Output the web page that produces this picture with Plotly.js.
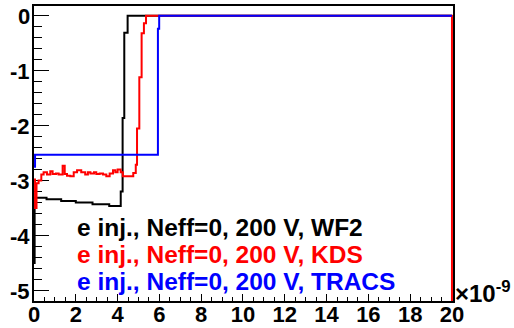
<!DOCTYPE html>
<html>
<head>
<meta charset="utf-8">
<script src="https://cdn.plot.ly/plotly-3.0.1.min.js"></script>
<style>
  html, body { margin: 0; padding: 0; background: #fff; }
  #chart { width: 514px; height: 328px; }
</style>
</head>
<body>
<div id="chart"></div>
<script>
// Induced current pulses, time in units of 1e-9 s (ns)
const wf2Time  = [0, 0.03, 0.6, 1.3, 2.0, 2.8, 3.6, 4.15, 4.24, 4.32, 4.48, 20];
const wf2Value = [-4.5, -3.31, -3.34, -3.37, -3.40, -3.43, -3.46, -3.2, -1.86, -0.31, 0, 0];

const kdsTime  = [0, 0.05, 0.12, 0.22, 0.35, 0.46, 0.62, 0.78, 0.89, 1.05, 1.18, 1.37, 1.47,
                  1.58, 1.74, 1.9, 2.06, 2.26, 2.45, 2.58, 2.7, 2.87, 2.98, 3.14, 3.3, 3.46,
                  3.62, 3.78, 3.89, 4.0, 4.15, 4.25, 4.75, 4.87, 4.93, 5.04, 5.15, 5.26, 5.36, 20];
const kdsValue = [-2.98, -3.5, -3.05, -3.0, -2.89, -2.85, -2.89, -2.83, -2.88, -2.87, -2.89, -2.73, -2.88,
                  -2.91, -2.92, -2.85, -2.81, -2.85, -2.89, -2.85, -2.87, -2.85, -2.88, -2.87, -2.89, -2.92,
                  -2.87, -2.81, -2.85, -2.80, -2.85, -2.92, -2.86, -2.71, -2.05, -1.12, -0.32, -0.14, 0, -5.3];

const tracsTime  = [0, 0.05, 5.93, 5.99, 20];
const tracsValue = [-2.75, -2.53, -0.24, 0, 0];

const seriesNames = ["e inj., Neff=0, 200 V, WF2", "e inj., Neff=0, 200 V, KDS", "e inj., Neff=0, 200 V, TRACS"];
const seriesColors = ["#000000", "#ff0000", "#0000ff"];

// y tick labels use a plain hyphen, as in the ROOT-style original
const yTickVals = [0, -1, -2, -3, -4, -5];
const yTickText = ["0", "-1", "-2", "-3", "-4", "-5"];

const FONT = "Liberation Sans, Arial, Helvetica, sans-serif";

function stepTrace(t, v, i) {
  return {
    x: t, y: v, type: "scatter", mode: "lines", name: seriesNames[i],
    line: { color: seriesColors[i], width: 2, shape: "hv" },
    hoverinfo: "skip"
  };
}

const data = [
  stepTrace(wf2Time, wf2Value, 0),
  stepTrace(kdsTime, kdsValue, 1),
  stepTrace(tracsTime, tracsValue, 2)
];

const legendY = [0.2475, 0.156, 0.0654];
const annotations = seriesNames.map((s, i) => ({
  xref: "paper", yref: "paper", x: 0.098, y: legendY[i],
  xanchor: "left", yanchor: "middle", showarrow: false,
  text: s, font: { family: FONT, size: 24.5, weight: "bold", color: seriesColors[i] }
}));
// y-axis labels, placed on the axis scale just left of the frame
yTickVals.forEach((v, i) => annotations.push({
  xref: "paper", yref: "y", x: 0, y: v, xanchor: "right", yanchor: "middle",
  xshift: -2, yshift: -1, showarrow: false, text: yTickText[i],
  font: { family: FONT, size: 22, weight: "bold", color: "#000" }
}));
annotations.push({
  xref: "paper", yref: "paper", x: 1, y: 0.03, xanchor: "left", yanchor: "middle",
  xshift: 0, showarrow: false, text: "×10<sup>-9</sup>",
  font: { family: FONT, size: 24, weight: "bold", color: "#000" }
});

const layout = {
  width: 514, height: 328,
  margin: { l: 34, r: 61, t: 6, b: 27 },
  paper_bgcolor: "#fff", plot_bgcolor: "#fff",
  showlegend: false,
  xaxis: {
    range: [0, 20.05], tickmode: "linear", tick0: 0, dtick: 2,
    ticks: "inside", ticklen: 7, tickwidth: 1, tickcolor: "#000",
    minor: { ticks: "inside", dtick: 0.5, tick0: 0, ticklen: 4, tickwidth: 1, tickcolor: "#000", showgrid: false },
    showline: true, mirror: true, linecolor: "#000", linewidth: 2,
    showgrid: false, zeroline: false, layer: "below traces",
    ticklabelstandoff: -7,
    tickfont: { family: FONT, size: 22, weight: "bold", color: "#000" }
  },
  yaxis: {
    range: [-5.19, 0.176], tickmode: "array", tickvals: yTickVals, showticklabels: false,
    ticks: "inside", ticklen: 15, tickwidth: 1, tickcolor: "#000",
    minor: { ticks: "inside", dtick: 0.2, tick0: 0, ticklen: 8, tickwidth: 1, tickcolor: "#000", showgrid: false },
    showline: true, mirror: true, linecolor: "#000", linewidth: 2,
    showgrid: false, zeroline: false, layer: "below traces"
  },
  annotations: annotations
};

Plotly.newPlot("chart", data, layout, { staticPlot: true, displayModeBar: false });
</script>
</body>
</html>
